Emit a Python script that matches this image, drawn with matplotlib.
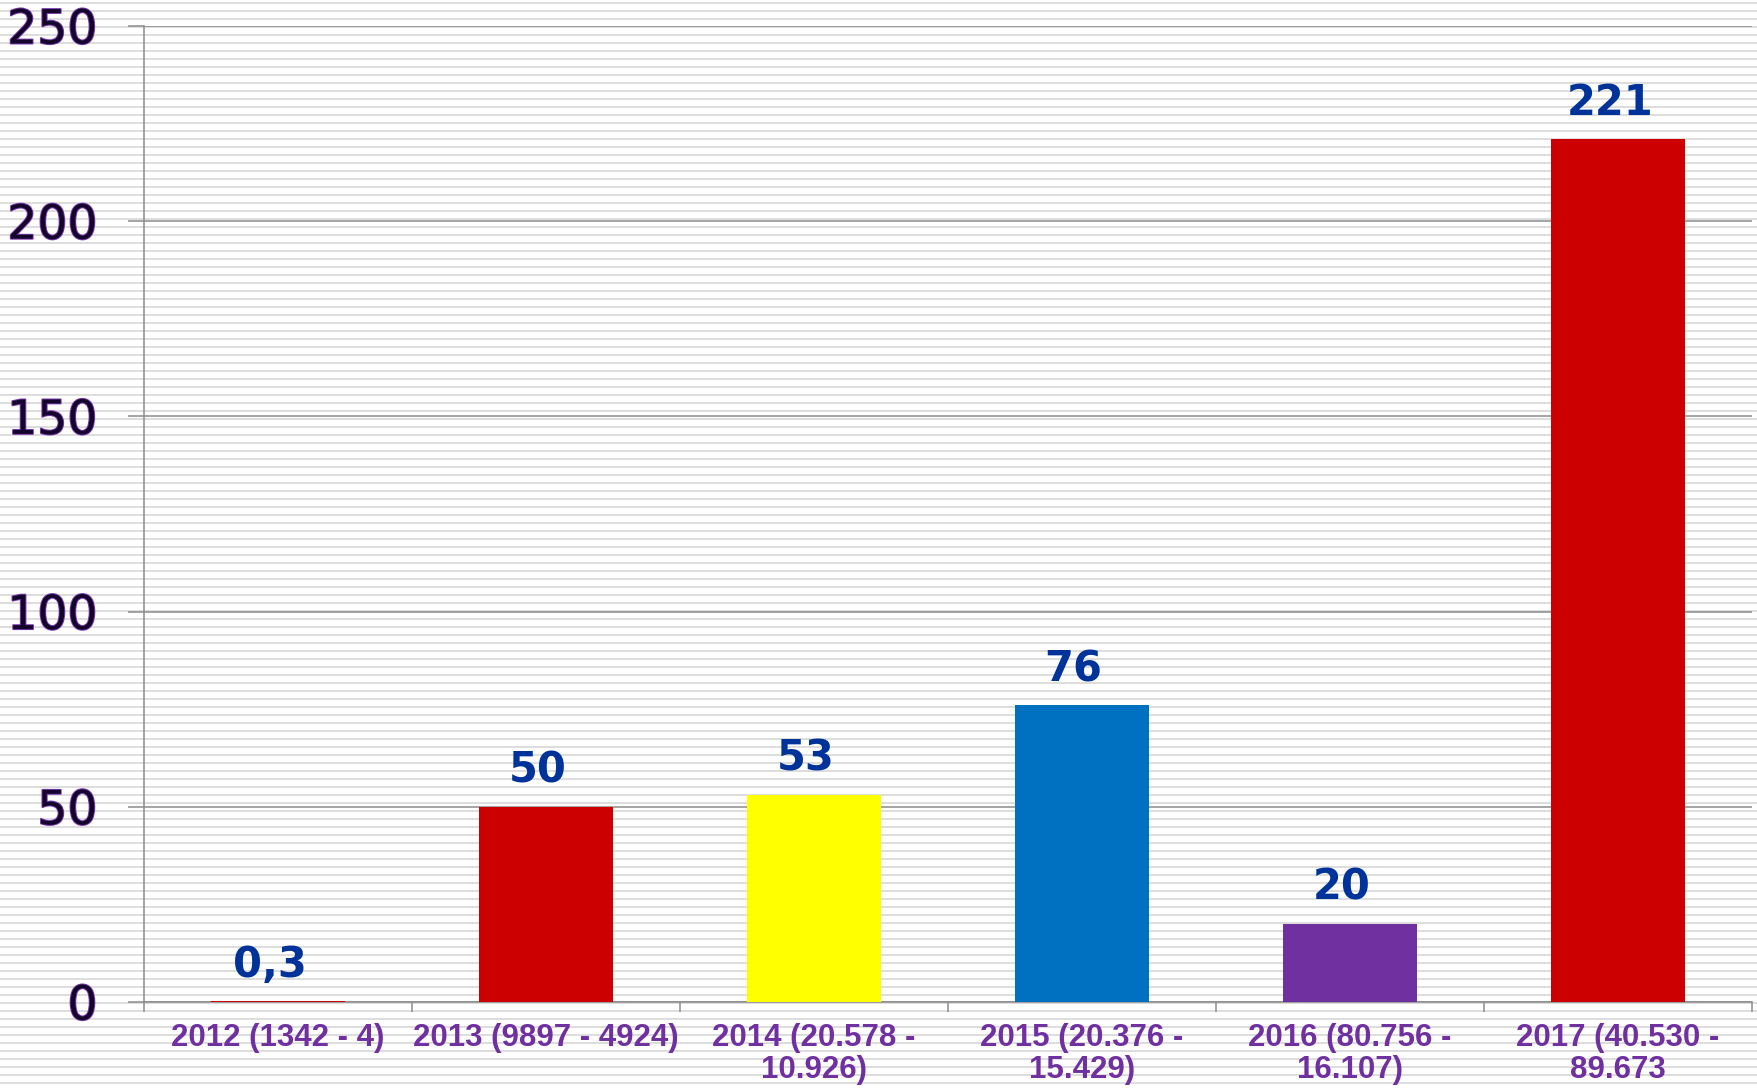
import numpy as np
import matplotlib
matplotlib.use("Agg")
import matplotlib.pyplot as plt
import matplotlib.patheffects as pe

# ---- data ----
categories = ["2012 (1342 - 4)", "2013 (9897 - 4924)", "2014 (20.578 -\n10.926)",
              "2015 (20.376 -\n15.429)", "2016 (80.756 -\n16.107)", "2017 (40.530 -\n89.673"]
values = [0.3, 50, 53, 76, 20, 221]
value_labels = ["0,3", "50", "53", "76", "20", "221"]
bar_colors = ["#CC0000", "#CC0000", "#FFFF00", "#0070C0", "#7030A0", "#CC0000"]
y_ticks = [0, 50, 100, 150, 200, 250]

W, H, DPI = 1758, 1088, 100
fig = plt.figure(figsize=(W / DPI, H / DPI), dpi=DPI)
fig.patch.set_facecolor("white")

# striped background across the whole figure
bg = fig.add_axes([0, 0, 1, 1], zorder=-5)
bg.set_xlim(0, 1)
bg.set_ylim(H, 0)
bg.axis("off")
stripe_y = np.arange(2.5, H, 8)
bg.hlines(stripe_y, 0, 1, colors="#dadada", linewidth=1.3)

ax = fig.add_axes([144 / W, 86 / H, (1752 - 144) / W, (1002 - 26) / H], zorder=1)
ax.set_facecolor("none")

x = np.arange(len(categories))
bars = ax.bar(x, values, width=0.5, color=bar_colors, zorder=3)

ax.set_xlim(-0.5, len(categories) - 0.5)
ax.set_ylim(0, 250)

# gridlines
ax.set_yticks(y_ticks)
ax.yaxis.grid(True, color="#8c8c8c", linewidth=1.1, zorder=0)
ax.set_axisbelow(True)

for s in ["top", "right"]:
    ax.spines[s].set_visible(False)
for s in ["left", "bottom"]:
    ax.spines[s].set_color("#8c8c8c")
    ax.spines[s].set_linewidth(1.1)

ax.tick_params(axis="y", which="major", length=11.5, width=1.1, color="#8c8c8c",
               pad=22, labelsize=34, labelcolor="#14052a")
for lab in ax.get_yticklabels():
    lab.set_path_effects([pe.withStroke(linewidth=1.4, foreground="#7a3ab0")])
    lab.set_family("DejaVu Sans")

# x ticks at category boundaries, labels at centers
ax.set_xticks(np.arange(-0.5, len(categories), 1.0))
ax.set_xticklabels([])
ax.tick_params(axis="x", which="major", length=7, width=1.1, color="#8c8c8c")
ax.set_xticks(x, minor=True)
ax.set_xticklabels(categories, minor=True, fontsize=22.5, fontweight="bold",
                   color="#7030A0", family=["Liberation Sans", "DejaVu Sans"],
                   linespacing=1.08)
ax.tick_params(axis="x", which="minor", length=0, pad=15)

# value labels
for xi, v, lab in zip(x, values, value_labels):
    ax.annotate(lab, (xi, v), xytext=(-6, 11), textcoords="offset points",
                ha="center", va="bottom", fontsize=30, fontweight="bold",
                color="#003399", family="DejaVu Sans", zorder=4)

fig.savefig("out.png", dpi=DPI)
